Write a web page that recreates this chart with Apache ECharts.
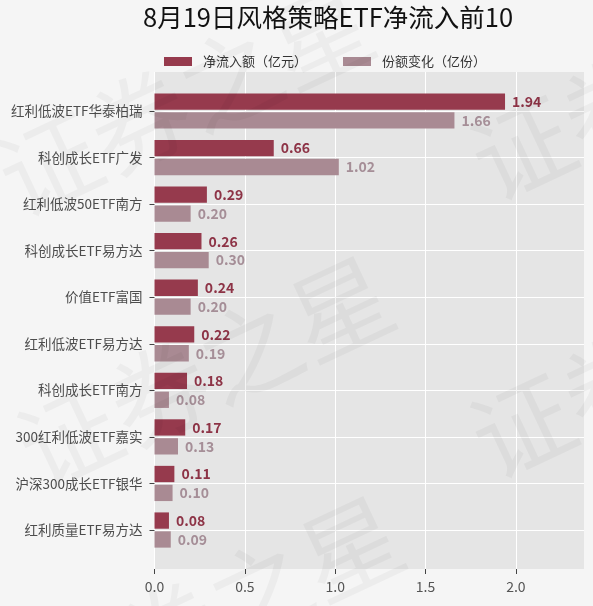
<!DOCTYPE html>
<html>
<head>
<meta charset="utf-8">
<script src="https://cdn.jsdelivr.net/npm/echarts@6/dist/echarts.min.js"></script>
<style>
html, body { margin: 0; padding: 0; background: #f5f5f5; }
#main { width: 593px; height: 606px; }
</style>
</head>
<body>
<div id="main"></div>
<script>
// 数据
var categories = ['红利低波ETF华泰柏瑞', '科创成长ETF广发', '红利低波50ETF南方', '科创成长ETF易方达', '价值ETF富国',
	'红利低波ETF易方达', '科创成长ETF南方', '300红利低波ETF嘉实', '沪深300成长ETF银华', '红利质量ETF易方达'];
var netInflow = [1.94, 0.66, 0.29, 0.26, 0.24, 0.22, 0.18, 0.17, 0.11, 0.08];
var shareChange = [1.66, 1.02, 0.20, 0.30, 0.20, 0.19, 0.08, 0.13, 0.10, 0.09];
var seriesNames = ['净流入额（亿元）', '份额变化（亿份）'];
var xMax = 2.377;   // 横轴上限
var xTickMax = 2.0; // 最后一个刻度

var font = '"Noto Sans CJK SC", "Noto Sans", sans-serif';
var darkColor = '#963a4d';
var lightColor = '#a98a93';

// 水印
var marks = [[185, 100], [205, 372], [658, 84], [658, 362], [215, 612]];
var graphics = [];
for (var i = 0; i < marks.length; i++) {
	graphics.push({
		type: 'text',
		x: marks[i][0],
		y: marks[i][1],
		rotation: 0.44,
		silent: true,
		z: 100,
		style: {
			text: '证券之星',
			font: '100px ' + font,
			fill: 'rgba(0,0,0,0.035)',
			align: 'center',
			verticalAlign: 'middle'
		}
	});
}

var L = 154.5, R = 9;
var plotW = 593 - L - R;
var tickW = plotW * xTickMax / xMax;
var myChart = echarts.init(document.getElementById('main'));
var option = {
	backgroundColor: '#f5f5f5',
	textStyle: { fontFamily: font },
	title: {
		text: '8月19日风格策略ETF净流入前10',
		left: 143,
		top: 5,
		padding: 0,
		textStyle: { fontSize: 25.5, fontWeight: 'normal', color: '#111', fontFamily: font }
	},
	legend: {
		data: seriesNames,
		left: 159,
		top: 50,
		icon: 'rect',
		itemWidth: 28,
		itemHeight: 9,
		itemGap: 36,
		textStyle: { fontSize: 13, color: '#333', padding: [0, 0, 0, 6], fontFamily: font }
	},
	graphic: graphics,
	grid: [
		// 背景
		{ left: L, right: R, top: 72, bottom: 37, show: true, backgroundColor: '#e5e5e5', borderWidth: 0 },
		// 横向网格线和类目标签
		{ left: L, right: R, top: 111, bottom: 76 },
		// 柱子
		{ left: L, right: R, top: 87.7, bottom: 52.7 },
		// 纵向网格线和刻度
		{ left: L, width: tickW, top: 72, bottom: 37 }
	],
	xAxis: [
		{ gridIndex: 0, type: 'value', min: 0, max: xMax, show: false },
		{ gridIndex: 1, type: 'value', min: 0, max: xMax, show: false },
		{ gridIndex: 2, type: 'value', min: 0, max: xMax, show: false },
		{
			gridIndex: 3, type: 'value', min: 0, max: xTickMax, interval: 0.5,
			axisLine: { show: false },
			axisTick: { show: true, length: 5, lineStyle: { color: '#444' } },
			axisLabel: { fontSize: 14, color: '#555', margin: 11, fontFamily: font,
				formatter: function (v) { return v.toFixed(1); } },
			splitLine: { show: true, lineStyle: { color: '#ffffff', width: 1 } }
		}
	],
	yAxis: [
		{ gridIndex: 0, type: 'value', show: false },
		{
			gridIndex: 1, type: 'category', data: categories, inverse: true, boundaryGap: false,
			axisLine: { show: false },
			axisTick: { show: true, length: 5, lineStyle: { color: '#444' } },
			axisLabel: { fontSize: 13.5, color: '#4d4d4d', margin: 12, fontFamily: font, interval: 0 },
			splitLine: { show: true, lineStyle: { color: '#ffffff', width: 1 } }
		},
		{ gridIndex: 2, type: 'category', data: categories, inverse: true, show: false },
		{ gridIndex: 3, type: 'value', show: false }
	],
	series: [
		{
			name: seriesNames[0], type: 'bar', xAxisIndex: 2, yAxisIndex: 2,
			data: netInflow, barWidth: 16.3, barGap: '16%',
			itemStyle: { color: darkColor },
			label: { show: true, position: 'right', distance: 7, fontSize: 14, fontWeight: 'bold',
				color: '#8d3346', fontFamily: font, formatter: function (p) { return p.value.toFixed(2); } }
		},
		{
			name: seriesNames[1], type: 'bar', xAxisIndex: 2, yAxisIndex: 2,
			data: shareChange, barWidth: 16.3, barGap: '16%',
			itemStyle: { color: lightColor },
			label: { show: true, position: 'right', distance: 7, fontSize: 14, fontWeight: 'bold',
				color: '#a58e97', fontFamily: font, formatter: function (p) { return p.value.toFixed(2); } }
		}
	]
};
myChart.setOption(option);
</script>
</body>
</html>
